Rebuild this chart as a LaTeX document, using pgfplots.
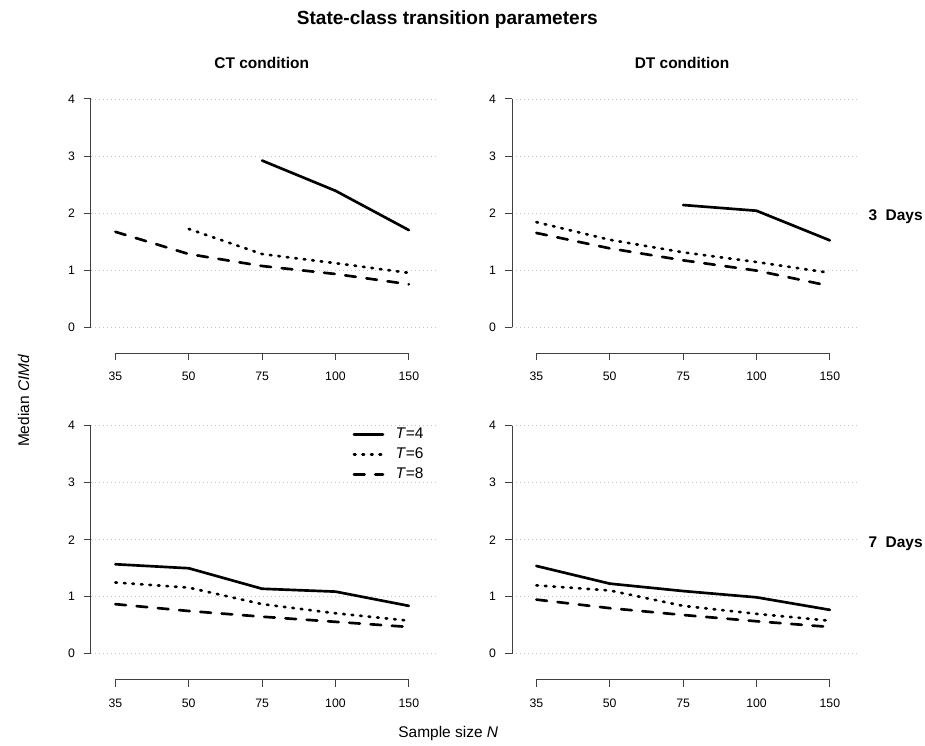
\documentclass[border=0pt]{standalone}
\usepackage{fontspec}
\setmainfont{Liberation Sans}
\usepackage{pgfplots}
\pgfplotsset{compat=1.18}

% one panel of the 2x2 grid; x is the category index (35,50,75,100,150)
\pgfplotsset{
  rpanel/.style={
    width=258.75pt, height=190.5pt, scale only axis, anchor=north west,
    xmin=-0.332, xmax=4.37, ymin=-0.456, ymax=4,
    clip=false,
    axis line style={draw=none},
    xtick={0,...,4}, xticklabels={35,50,75,100,150},
    ytick={0,...,4},
    xtick pos=left, ytick pos=left,
    tick align=outside, major tick length=5.5pt,
    tick style={black!75, line width=0.75pt},
    ymajorgrids, major grid style={gray!45, line width=0.6pt, dash pattern=on 0.75pt off 2.25pt},
    tick label style={font=\fontsize{9.2}{10}\selectfont},
    /pgf/number format/assume math mode=true,
    yticklabel style={xshift=-3pt},
    xticklabel style={yshift=-5.5pt},
  },
  t4/.style={black, line width=2pt, line cap=round, line join=round},
  t6/.style={black, line width=2pt, line cap=round, dash pattern=on 1.2pt off 5.2pt},
  t8/.style={black, line width=2pt, line cap=round, dash pattern=on 8pt off 8pt},
}
\newcommand{\raxes}{%
  \draw[black!75, line width=0.75pt] (axis cs:-0.332,0) -- (axis cs:-0.332,4);
  \draw[black!75, line width=0.75pt] (axis cs:0,-0.456) -- (axis cs:4,-0.456);
}

\begin{document}
\begin{tikzpicture}
\path (0pt,0pt) rectangle (693.75pt,-558.75pt);

% CT, 3 days
\begin{axis}[rpanel, at={(68.25pt,-74.25pt)}]
\raxes
\addplot[t4] coordinates {(2,2.92)(3,2.39)(4,1.70)};
\addplot[t6] coordinates {(1,1.72)(2,1.28)(3,1.12)(4,0.95)};
\addplot[t8] coordinates {(0,1.67)(1,1.28)(2,1.07)(3,0.93)(4,0.75)};
\end{axis}

% DT, 3 days
\begin{axis}[rpanel, at={(384pt,-74.25pt)}]
\raxes
\addplot[t4] coordinates {(2,2.14)(3,2.04)(4,1.52)};
\addplot[t6] coordinates {(0,1.84)(1,1.53)(2,1.31)(3,1.14)(4,0.95)};
\addplot[t8] coordinates {(0,1.65)(1,1.38)(2,1.17)(3,0.99)(4,0.72)};
\end{axis}

% CT, 7 days (holds the legend)
\begin{axis}[rpanel, at={(68.25pt,-319.3pt)},
  legend image code/.code={\draw[#1] (0pt,0pt) -- (21.75pt,0pt);},
  legend cell align=left,
  legend style={draw=none, fill=none, at={(rel axis cs:0,1)}, anchor=north west,
    xshift=196pt, yshift=0.5pt, inner sep=0pt, column sep=6.5pt, row sep=1.5pt,
    font=\fontsize{11.6}{13}\selectfont},
]
\raxes
\addplot[t4] coordinates {(0,1.57)(1,1.50)(2,1.14)(3,1.09)(4,0.84)};
\addlegendentry{\textit{T}=4}
\addplot[t6] coordinates {(0,1.25)(1,1.16)(2,0.87)(3,0.71)(4,0.58)};
\addlegendentry{\textit{T}=6}
\addplot[t8] coordinates {(0,0.87)(1,0.75)(2,0.65)(3,0.56)(4,0.47)};
\addlegendentry{\textit{T}=8}
\end{axis}

% DT, 7 days
\begin{axis}[rpanel, at={(384pt,-319.3pt)}]
\raxes
\addplot[t4] coordinates {(0,1.54)(1,1.23)(2,1.10)(3,0.99)(4,0.77)};
\addplot[t6] coordinates {(0,1.20)(1,1.11)(2,0.84)(3,0.70)(4,0.58)};
\addplot[t8] coordinates {(0,0.95)(1,0.80)(2,0.68)(3,0.57)(4,0.47)};
\end{axis}

% titles and labels
\node[anchor=base, font=\fontsize{14.3}{16}\selectfont\bfseries] at (335.5pt,-18.75pt) {State-class transition parameters};
\node[anchor=base, font=\fontsize{11.6}{13}\selectfont\bfseries] at (196.3pt,-51.2pt) {CT condition};
\node[anchor=base, font=\fontsize{11.6}{13}\selectfont\bfseries] at (511.5pt,-51.2pt) {DT condition};
\node[anchor=base west, inner sep=0pt, font=\fontsize{11.6}{13}\selectfont\bfseries] at (651.2pt,-165.75pt) {3\ \ Days};
\node[anchor=base west, inner sep=0pt, font=\fontsize{11.6}{13}\selectfont\bfseries] at (651.2pt,-410.6pt) {7\ \ Days};
\node[anchor=base, font=\fontsize{11.6}{13}\selectfont] at (336.2pt,-553.3pt) {Sample size \textit{N}};
\node[anchor=base, rotate=90, font=\fontsize{11.6}{13}\selectfont] at (21.75pt,-300.6pt) {Median \textit{CIMd}};
\end{tikzpicture}
\end{document}
